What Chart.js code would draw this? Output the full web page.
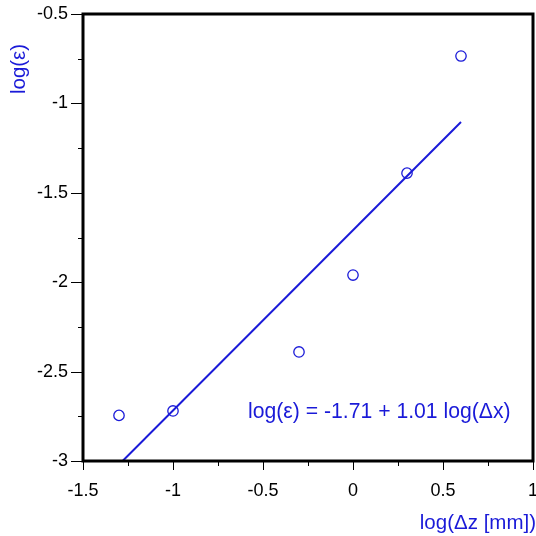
<!DOCTYPE html>
<html>
<head>
<meta charset="utf-8">
<script src="https://cdn.jsdelivr.net/npm/chart.js@4/dist/chart.umd.min.js"></script>
<style>
  html, body { margin: 0; padding: 0; background: #fff; }
  #wrap { width: 536px; height: 536px; position: relative; }
</style>
</head>
<body>
<div id="wrap"><canvas id="plot"></canvas></div>
<script>
// measured points (log dz, log eps)
var logDz = [-1.3, -1, -0.3, 0, 0.3, 0.6];
var logEps = [-2.745, -2.72, -2.39, -1.96, -1.39, -0.735];
// fitted line ends
var fitX = [-1.28, 0.6];
var fitY = [-3.0, -1.104];
var xTicks = [-1.5, -1, -0.5, 0, 0.5, 1];
var yTicks = [-0.5, -1, -1.5, -2, -2.5, -3];

var blue = "#1a1ad8";
var fontName = "'Liberation Sans', Arial, sans-serif";

var pts = [];
for (var i = 0; i < logDz.length; i++) {
  pts.push({x: logDz[i], y: logEps[i]});
}
var fit = [];
for (var i = 0; i < fitX.length; i++) {
  fit.push({x: fitX[i], y: fitY[i]});
}

// frame, ticks, titles and the equation
var decor = {
  id: "decor",
  afterDraw: function (chart) {
    var ctx = chart.ctx;
    var a = chart.chartArea;
    var xs = chart.scales.x, ys = chart.scales.y;
    ctx.save();
    ctx.strokeStyle = "#000";
    ctx.lineWidth = 1;
    var v;
    for (v = -1.5; v <= 1.0001; v += 0.25) {
      var px = Math.round(xs.getPixelForValue(v)) + 0.5;
      var major = Math.abs(v * 2 - Math.round(v * 2)) < 1e-6;
      ctx.beginPath();
      ctx.moveTo(px, a.bottom);
      ctx.lineTo(px, a.bottom + (major ? 9 : 5));
      ctx.stroke();
    }
    for (v = -3; v <= -0.4999; v += 0.25) {
      var py = Math.round(ys.getPixelForValue(v)) + 0.5;
      var major2 = Math.abs(v * 2 - Math.round(v * 2)) < 1e-6;
      ctx.beginPath();
      ctx.moveTo(a.left, py);
      ctx.lineTo(a.left - (major2 ? 12 : 5), py);
      ctx.stroke();
    }
    ctx.lineWidth = 3;
    ctx.strokeRect(a.left, a.top, a.right - a.left, a.bottom - a.top);

    ctx.fillStyle = "#000";
    ctx.font = "18px " + fontName;
    ctx.textAlign = "center";
    ctx.textBaseline = "middle";
    xTicks.forEach(function (t) {
      ctx.fillText(String(t), xs.getPixelForValue(t), a.bottom + 30);
    });
    ctx.textAlign = "right";
    yTicks.forEach(function (t) {
      ctx.fillText(String(t), a.left - 15, ys.getPixelForValue(t));
    });

    ctx.fillStyle = blue;
    ctx.font = "20.5px " + fontName;
    ctx.textAlign = "right";
    ctx.fillText("log(\u0394z [mm])", 536, 523);
    ctx.save();
    ctx.translate(19, 69);
    ctx.rotate(-Math.PI / 2);
    ctx.textAlign = "center";
    ctx.fillText("log(\u03b5)", 0, 0);
    ctx.restore();
    ctx.font = "21.2px " + fontName;
    ctx.textAlign = "left";
    ctx.fillText("log(\u03b5) = -1.71 + 1.01 log(\u0394x)", 248, 412);
    ctx.restore();
  }
};

new Chart(document.getElementById("plot"), {
  type: "scatter",
  data: {
    datasets: [
      {
        label: "fit",
        data: fit,
        showLine: true,
        borderColor: blue,
        borderWidth: 2,
        pointRadius: 0,
        fill: false
      },
      {
        label: "data",
        data: pts,
        pointRadius: 5.2,
        pointBorderWidth: 1.3,
        pointBorderColor: blue,
        pointBackgroundColor: "rgba(255,255,255,0)",
        showLine: false
      }
    ]
  },
  options: {
    responsive: true,
    maintainAspectRatio: false,
    animation: false,
    events: [],
    layout: { autoPadding: false, padding: { top: 14, right: 3, left: 0, bottom: 0 } },
    plugins: { legend: { display: false }, tooltip: { enabled: false } },
    scales: {
      x: {
        type: "linear", min: -1.5, max: 1,
        grid: { display: false },
        border: { display: false },
        ticks: { display: false },
        afterFit: function (s) { s.height = 75; }
      },
      y: {
        type: "linear", min: -3, max: -0.5,
        grid: { display: false },
        border: { display: false },
        ticks: { display: false },
        afterFit: function (s) { s.width = 83; }
      }
    }
  },
  plugins: [decor]
});
</script>
</body>
</html>
